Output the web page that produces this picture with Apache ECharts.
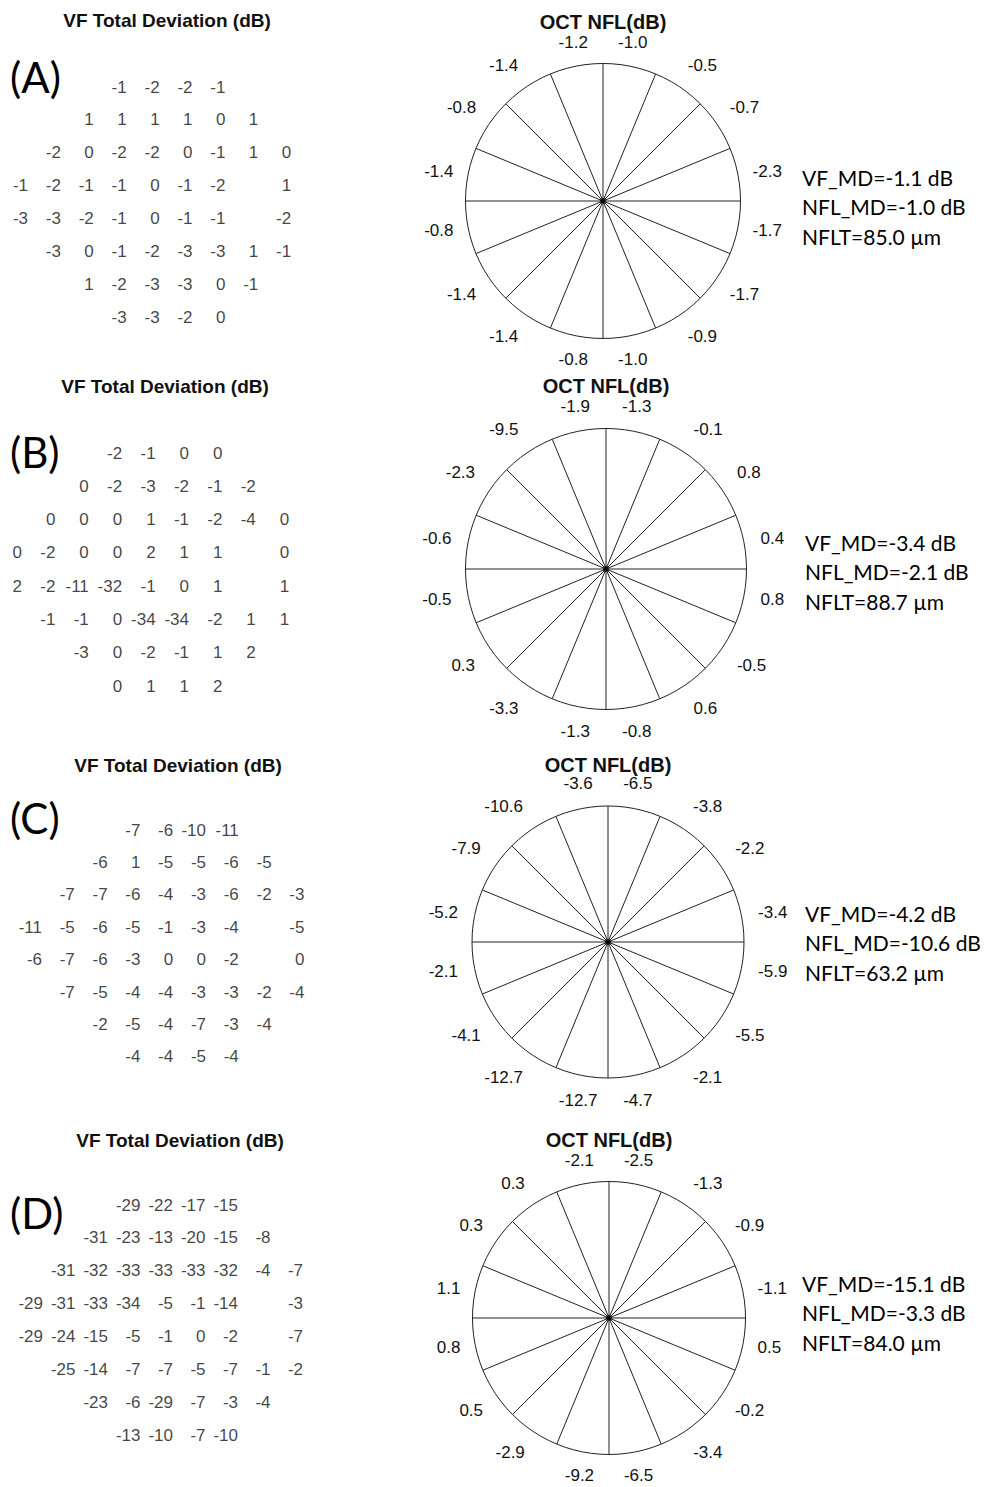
<!DOCTYPE html>
<html>
<head>
<meta charset="utf-8">
<script src="https://cdn.jsdelivr.net/npm/echarts@6/dist/echarts.min.js"></script>
<style>
  html, body { margin: 0; background: #fff; }
  #main { width: 986px; height: 1487px; }
</style>
</head>
<body>
<div id="main"></div>
<script>
// panel letters
const panelNames = ['(A)', '(B)', '(C)', '(D)']

// VF total deviation grids (rows top->bottom, 9 columns, null = no test point)
const vfA = [
  [null, null, null, -1, -2, -2, -1, null, null],
  [null, null, 1, 1, 1, 1, 0, 1, null],
  [null, -2, 0, -2, -2, 0, -1, 1, 0],
  [-1, -2, -1, -1, 0, -1, -2, null, 1],
  [-3, -3, -2, -1, 0, -1, -1, null, -2],
  [null, -3, 0, -1, -2, -3, -3, 1, -1],
  [null, null, 1, -2, -3, -3, 0, -1, null],
  [null, null, null, -3, -3, -2, 0, null, null]
]
const vfB = [
  [null, null, null, -2, -1, 0, 0, null, null],
  [null, null, 0, -2, -3, -2, -1, -2, null],
  [null, 0, 0, 0, 1, -1, -2, -4, 0],
  [0, -2, 0, 0, 2, 1, 1, null, 0],
  [2, -2, -11, -32, -1, 0, 1, null, 1],
  [null, -1, -1, 0, -34, -34, -2, 1, 1],
  [null, null, -3, 0, -2, -1, 1, 2, null],
  [null, null, null, 0, 1, 1, 2, null, null]
]
const vfC = [
  [null, null, null, -7, -6, -10, -11, null, null],
  [null, null, -6, 1, -5, -5, -6, -5, null],
  [null, -7, -7, -6, -4, -3, -6, -2, -3],
  [-11, -5, -6, -5, -1, -3, -4, null, -5],
  [-6, -7, -6, -3, 0, 0, -2, null, 0],
  [null, -7, -5, -4, -4, -3, -3, -2, -4],
  [null, null, -2, -5, -4, -7, -3, -4, null],
  [null, null, null, -4, -4, -5, -4, null, null]
]
const vfD = [
  [null, null, null, -29, -22, -17, -15, null, null],
  [null, null, -31, -23, -13, -20, -15, -8, null],
  [null, -31, -32, -33, -33, -33, -32, -4, -7],
  [-29, -31, -33, -34, -5, -1, -14, null, -3],
  [-29, -24, -15, -5, -1, 0, -2, null, -7],
  [null, -25, -14, -7, -7, -5, -7, -1, -2],
  [null, null, -23, -6, -29, -7, -3, -4, null],
  [null, null, null, -13, -10, -7, -10, null, null]
]

// OCT NFL sectors, clockwise starting at 12 o'clock
const nflA = [-1.0, -0.5, -0.7, -2.3, -1.7, -1.7, -0.9, -1.0, -0.8, -1.4, -1.4, -0.8, -1.4, -0.8, -1.4, -1.2]
const nflB = [-1.3, -0.1, 0.8, 0.4, 0.8, -0.5, 0.6, -0.8, -1.3, -3.3, 0.3, -0.5, -0.6, -2.3, -9.5, -1.9]
const nflC = [-6.5, -3.8, -2.2, -3.4, -5.9, -5.5, -2.1, -4.7, -12.7, -12.7, -4.1, -2.1, -5.2, -7.9, -10.6, -3.6]
const nflD = [-2.5, -1.3, -0.9, -1.1, 0.5, -0.2, -3.4, -6.5, -9.2, -2.9, 0.5, 0.8, 1.1, 0.3, 0.3, -2.1]

// summary values
const vfMD = [-1.1, -3.4, -4.2, -15.1]
const nflMD = [-1.0, -2.1, -10.6, -3.3]
const nflt = [85.0, 88.7, 63.2, 84.0]

const vfGrids = [vfA, vfB, vfC, vfD]
const nflSectors = [nflA, nflB, nflC, nflD]

// placement of each panel
const layout = [
  { vfLeft: 28, vfTop: 87, colStep: 32.9, rowStep: 32.9, vfTitleX: 167, vfTitleY: 20, cx: 603, cy: 201, r: 137.5, margin: 15, octY: 22, letterY: 77, statX: 802, statY: 177 },
  { vfLeft: 22, vfTop: 453, colStep: 33.4, rowStep: 33.3, vfTitleX: 165, vfTitleY: 386, cx: 606, cy: 569, r: 140.5, margin: 17, octY: 386, letterY: 452, statX: 805, statY: 542 },
  { vfLeft: 42, vfTop: 830, colStep: 32.8, rowStep: 32.4, vfTitleX: 178, vfTitleY: 765, cx: 608, cy: 942, r: 136, margin: 17, octY: 765, letterY: 818, statX: 805, statY: 913 },
  { vfLeft: 43, vfTop: 1205, colStep: 32.5, rowStep: 32.9, vfTitleX: 180, vfTitleY: 1140, cx: 609, cy: 1318, r: 136.5, margin: 15, octY: 1140, letterY: 1213, statX: 802, statY: 1283 }
]

const numFont = 'Liberation Sans'
const sideFont = 'Lato'

const grid = [], xAxis = [], yAxis = [], polar = [], angleAxis = [], radiusAxis = [], series = [], graphic = []

layout.forEach((L, i) => {
  grid.push({ left: L.vfLeft, top: L.vfTop, width: 8 * L.colStep, height: 7 * L.rowStep })
  xAxis.push({ gridIndex: i, type: 'value', min: 0, max: 8, show: false })
  yAxis.push({ gridIndex: i, type: 'value', min: 0, max: 7, inverse: true, show: false })

  const pts = []
  vfGrids[i].forEach((row, r) => row.forEach((v, c) => { if (v !== null) pts.push([c, r, v]) }))
  series.push({
    type: 'scatter',
    xAxisIndex: i,
    yAxisIndex: i,
    symbolSize: 0,
    silent: true,
    data: pts,
    label: {
      show: true,
      position: 'inside',
      align: 'right',
      verticalAlign: 'middle',
      formatter: p => String(p.value[2]),
      fontSize: 17,
      fontFamily: numFont,
      color: '#111'
    }
  })

  polar.push({ center: [L.cx, L.cy], radius: L.r })
  radiusAxis.push({ polarIndex: i, type: 'value', min: 0, max: 1, show: false })
  angleAxis.push({
    polarIndex: i,
    type: 'category',
    data: nflSectors[i].map(v => v.toFixed(1)),
    startAngle: 90,
    clockwise: true,
    boundaryGap: true,
    axisLine: { show: true, lineStyle: { color: '#222', width: 1 } },
    axisTick: { show: false },
    splitLine: { show: true, lineStyle: { color: '#222', width: 1 } },
    splitArea: { show: false },
    axisLabel: { interval: 0, margin: L.margin, fontSize: 17, fontFamily: numFont, color: '#111' }
  })
  series.push({
    type: 'scatter',
    coordinateSystem: 'polar',
    polarIndex: i,
    symbolSize: 6,
    silent: true,
    itemStyle: { color: '#000' },
    data: [[0, 0]]
  })

  graphic.push(
    { type: 'text', x: L.vfTitleX, y: L.vfTitleY, style: { text: 'VF Total Deviation (dB)', fontSize: 19, fontWeight: 'bold', fontFamily: numFont, fill: '#111', align: 'center', verticalAlign: 'middle' } },
    { type: 'text', x: L.cx, y: L.octY, style: { text: 'OCT NFL(dB)', fontSize: 20, fontWeight: 'bold', fontFamily: numFont, fill: '#111', align: 'center', verticalAlign: 'middle' } },
    { type: 'text', x: 10, y: L.letterY, style: { text: panelNames[i], fontSize: 42, fontFamily: sideFont, fill: '#000', align: 'left', verticalAlign: 'middle' } },
    { type: 'text', x: L.statX, y: L.statY, style: { text: 'VF_MD=' + vfMD[i].toFixed(1) + ' dB', fontSize: 21, fontFamily: sideFont, fill: '#000', align: 'left', verticalAlign: 'middle' } },
    { type: 'text', x: L.statX, y: L.statY + 29.5, style: { text: 'NFL_MD=' + nflMD[i].toFixed(1) + ' dB', fontSize: 21, fontFamily: sideFont, fill: '#000', align: 'left', verticalAlign: 'middle' } },
    { type: 'text', x: L.statX, y: L.statY + 59, style: { text: 'NFLT=' + nflt[i].toFixed(1) + ' \u00b5m', fontSize: 21, fontFamily: sideFont, fill: '#000', align: 'left', verticalAlign: 'middle' } }
  )
})

const chart = echarts.init(document.getElementById('main'), null, { renderer: 'svg' })
chart.setOption({
  backgroundColor: '#fff',
  animation: false,
  grid, xAxis, yAxis, polar, angleAxis, radiusAxis, series, graphic
})
</script>
</body>
</html>
